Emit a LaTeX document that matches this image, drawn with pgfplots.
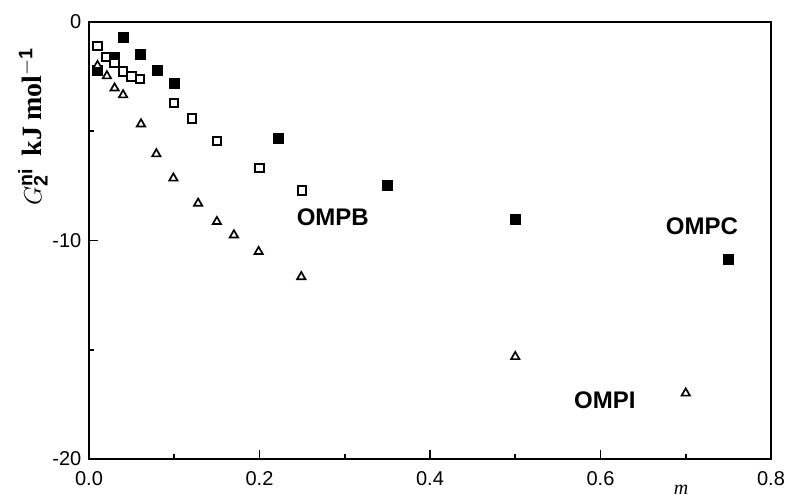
\documentclass[border=0pt]{standalone}
\usepackage{pgfplots}
\pgfplotsset{compat=1.18}
\usepackage{fontspec}
\setmainfont{Liberation Sans}
\newfontfamily\serifb{Liberation Serif}
\begin{document}
\begin{tikzpicture}
\path[use as bounding box] (0pt,0pt) rectangle (788pt,502pt);
\begin{axis}[
  at={(89pt,43pt)}, anchor=south west,
  scale only axis, width=682pt, height=437pt,
  xmin=0, xmax=0.8, ymin=-20, ymax=0,
  line width=2.6pt,
  tick align=inside, xtick pos=bottom, ytick pos=left,
  xtick={0,0.2,0.4,0.6,0.8}, xticklabels={0.0,0.2,0.4,0.6,0.8},
  minor xtick={0.1,0.3,0.5,0.7},
  ytick={-20,-10,0}, yticklabels={-20,-10,0},
  minor ytick={-15,-5},
  major tick length=9pt, minor tick length=5pt,
  every tick/.style={line width=1.8pt, black},
  ticklabel style={font=\fontsize{20}{20}\selectfont},
  xticklabel style={yshift=-8pt},
  yticklabel style={xshift=-3pt},
  clip=false,
]
% OMPC (filled squares)
\addplot[only marks, mark=square*, mark size=5pt, mark options={fill=black, draw=black, line width=0.6pt}] table {
x y
0.010 -2.20
0.030 -1.60
0.040 -0.70
0.060 -1.50
0.080 -2.20
0.100 -2.80
0.222 -5.32
0.350 -7.46
0.500 -9.05
0.750 -10.85
};
% OMPB (open squares)
\addplot[only marks, mark=square*, mark size=4.2pt, mark options={fill=white, draw=black, line width=2pt}] table {
x y
0.010 -1.10
0.020 -1.59
0.030 -1.89
0.040 -2.27
0.050 -2.50
0.060 -2.61
0.100 -3.72
0.121 -4.41
0.150 -5.45
0.200 -6.67
0.250 -7.72
};
% OMPI (open triangles)
\addplot[only marks, mark=triangle*, mark size=4.8pt, mark options={fill=white, draw=black, line width=1.7pt}] table {
x y
0.010 -2.00
0.021 -2.47
0.030 -3.03
0.040 -3.34
0.061 -4.67
0.079 -6.04
0.099 -7.15
0.128 -8.30
0.150 -9.14
0.170 -9.75
0.199 -10.51
0.249 -11.66
0.500 -15.32
0.700 -16.99
};
\node[font=\fontsize{24}{24}\selectfont\bfseries] at (axis cs:0.286,-8.92) {OMPB};
\node[font=\fontsize{24}{24}\selectfont\bfseries] at (axis cs:0.719,-9.34) {OMPC};
\node[font=\fontsize{24}{24}\selectfont\bfseries] at (axis cs:0.605,-17.30) {OMPI};
\end{axis}
\node[rotate=90, font=\fontsize{28}{28}\selectfont] at (33pt,375pt)
  {\serifb\bfseries $G^{\mathbf{ni}}_{\mathbf{2}}$\hspace{12pt}kJ\hspace{6pt}mol$^{\mathbf{-1}}$};
\node[font=\fontsize{20}{20}\selectfont, inner sep=1pt] at (681pt,12pt) {\serifb\itshape m};
\end{tikzpicture}
\end{document}
